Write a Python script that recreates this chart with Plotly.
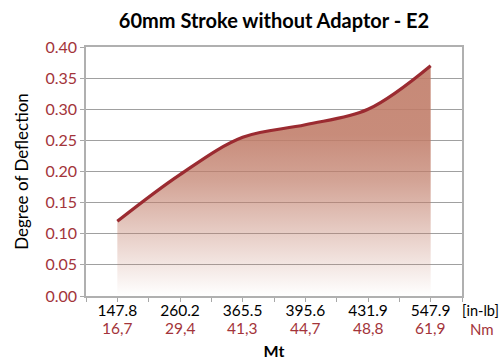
import plotly.graph_objects as go

# Torque test points (in-lb and Nm) and measured deflection
torque_inlb = ["147.8", "260.2", "365.5", "395.6", "431.9", "547.9"]
torque_nm = ["16,7", "29,4", "41,3", "44,7", "48,8", "61,9"]
deflection = [0.120, 0.195, 0.255, 0.275, 0.300, 0.370]
y_ticks = [0.00, 0.05, 0.10, 0.15, 0.20, 0.25, 0.30, 0.35, 0.40]

RED = "#9B2B31"
LABEL_RED = "#A3343A"
FONT = "Lato"

positions = list(range(len(torque_inlb)))

fig = go.Figure()
fig.add_trace(
    go.Scatter(
        x=positions,
        y=deflection,
        mode="lines",
        line=dict(color=RED, width=3.2, shape="spline", smoothing=1),
        fill="tozeroy",
        fillgradient=dict(
            type="vertical",
            start=0,
            stop=max(deflection),
            colorscale=[
                [0.0, "rgba(192,124,104,0.0)"],
                [0.25, "rgba(192,124,104,0.35)"],
                [0.5, "rgba(192,124,104,0.7)"],
                [0.7, "rgba(192,124,104,0.88)"],
                [1.0, "rgba(192,124,104,0.9)"],
            ],
        ),
        hoverinfo="skip",
        showlegend=False,
    )
)

fig.update_layout(
    width=504,
    height=360,
    margin=dict(l=86, r=42, t=47, b=64),
    paper_bgcolor="white",
    plot_bgcolor="white",
    font=dict(family=FONT, color="black"),
    title=dict(
        text="<b>60mm Stroke without Adaptor - E2</b>",
        x=(86 + 462) / 2 / 504,
        xanchor="center",
        y=1 - 21 / 360,
        yanchor="middle",
        font=dict(size=20, family=FONT, color="black"),
    ),
)

fig.update_xaxes(
    range=[-0.5, len(torque_inlb) - 0.5],
    tickvals=positions,
    ticktext=torque_inlb,
    tickfont=dict(size=15.5, color="black", family=FONT),
    ticks="outside",
    ticklen=4,
    tickcolor="#A8A8A8",
    ticklabelstandoff=-4,
    minor=dict(dtick=0.5, tick0=-0.5, ticks="outside", ticklen=4, tickcolor="#A8A8A8"),
    showgrid=False,
    showline=True,
    linecolor="#B0B0B0",
    linewidth=1.5,
    mirror=True,
    zeroline=False,
    automargin=False,
    title=dict(text="<b>Mt</b>", font=dict(size=16, family=FONT), standoff=30),
)

fig.update_yaxes(
    range=[0, 0.40],
    tickvals=y_ticks,
    ticktext=[f"{v:.2f}" for v in y_ticks],
    tickfont=dict(size=16, color=LABEL_RED, family=FONT),
    ticks="outside",
    ticklen=4,
    tickcolor="#A8A8A8",
    showgrid=True,
    gridcolor="#A0A0A0",
    gridwidth=1.2,
    showline=True,
    linecolor="#B0B0B0",
    linewidth=1.5,
    mirror=True,
    zeroline=False,
    automargin=False,
    title=dict(text="Degree of Deflection", font=dict(size=17, family=FONT), standoff=12),
)

# Second row of torque labels in Nm, under the in-lb ticks
for pos, nm in zip(positions, torque_nm):
    fig.add_annotation(
        text=nm, x=pos, xref="x", yref="paper", y=0, xanchor="center",
        yanchor="middle", yshift=-32, showarrow=False,
        font=dict(size=15.5, color=LABEL_RED, family=FONT),
    )

# Unit labels to the right of the torque axis
fig.add_annotation(
    text="[in-lb]", xref="paper", yref="paper", x=1.0, y=0, xanchor="left",
    yanchor="middle", yshift=-14, xshift=-2, showarrow=False,
    font=dict(size=14.5, color="black", family=FONT),
)
fig.add_annotation(
    text="Nm", xref="paper", yref="paper", x=1.0, y=0, xanchor="left",
    yanchor="middle", yshift=-33, xshift=6, showarrow=False,
    font=dict(size=15, color=LABEL_RED, family=FONT),
)

fig.write_html("out.html")
